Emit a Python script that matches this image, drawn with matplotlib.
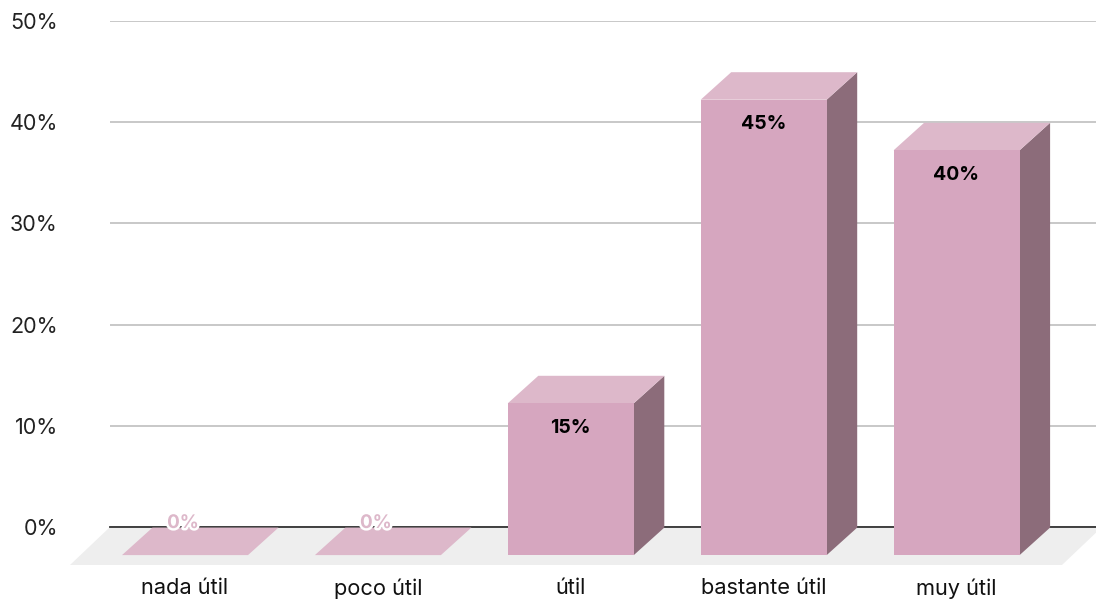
import matplotlib
matplotlib.use('Agg')
import matplotlib.pyplot as plt
import matplotlib.patheffects as pe
from matplotlib.patches import Polygon

categories = ['nada útil', 'poco útil', 'útil', 'bastante útil', 'muy útil']
values = [0, 0, 15, 45, 40]
y_ticks = [0, 10, 20, 30, 40, 50]

W, H = 1096, 599
plt.rcParams['font.family'] = ['Inter', 'Liberation Sans', 'DejaVu Sans']

FRONT = '#d6a6bf'
TOP = '#ddb8ca'
SIDE = '#8c6c7a'
FLOOR = '#eeeeee'

fig = plt.figure(figsize=(W / 100, H / 100), dpi=100)
# plot area runs from the 50% line down to the 0% line
ax = fig.add_axes([110 / W, 1 - 527 / H, (W - 110) / W, (527 - 21) / H])

# one category = 192.9 px, one percent = 10.12 px
px_x = 192.9
px_y = 10.12
ax.set_xlim((110 - 185) / px_x, (W - 185) / px_x)
ax.set_ylim(0, 50)

# fake depth of the 3d look
dx = 30.5 / px_x
dy = 27.5 / px_y
drop = 0.6 / px_y
half = 63 / px_x

for s in ax.spines.values():
    s.set_visible(False)
ax.set_axisbelow(True)
ax.grid(axis='y', color='#c8c8c8', lw=1.4)
ax.axhline(0, color='#333333', lw=1.3, zorder=1.5, clip_on=False)

# floor
fl = (70 - 185) / px_x
fr = (1062 - 185) / px_x
fb = -38 / px_y
ax.add_patch(Polygon([(fl, fb), (fr, fb), (fr + 40 / px_x, 0), (fl + 40 / px_x, 0)],
                     closed=True, fc=FLOOR, ec='none', zorder=1, clip_on=False))

for i, v in enumerate(values):
    l = i - half
    r = i + half
    back = v - drop
    base = -dy - drop
    top = back - dy
    ax.add_patch(Polygon([(r, base), (r + dx, -drop), (r + dx, back), (r, top)],
                         closed=True, fc=SIDE, ec='none', zorder=3, clip_on=False))
    ax.add_patch(Polygon([(l, top), (r, top), (r + dx, back), (l + dx, back)],
                         closed=True, fc=TOP, ec='none', zorder=3, clip_on=False))
    ax.add_patch(Polygon([(l, base), (r, base), (r, top), (l, top)],
                         closed=True, fc=FRONT, ec='none', zorder=3, clip_on=False))
    if v == 0:
        t = ax.text(i - 2 / px_x, 3.5 / px_y, f'{v}%', ha='center', va='center', fontsize=13.5,
                    fontweight='bold', color=TOP, zorder=5, clip_on=False)
        t.set_path_effects([pe.withStroke(linewidth=3.5, foreground='white')])
    else:
        ax.text(i - 0.5 / px_x, top - 24.5 / px_y, f'{v}%', ha='center', va='center', fontsize=14,
                fontweight='bold', color='black', zorder=5)

ax.set_yticks(y_ticks)
ax.set_yticklabels([f'{t}%' for t in y_ticks], fontsize=15.5, color='#222222')
ax.tick_params(axis='y', length=0, pad=37.5)
ax.set_xticks(range(len(categories)))
ax.set_xticklabels(categories, fontsize=15.7, color='#111111')
ax.tick_params(axis='x', length=0, pad=37)

fig.savefig('out.png', dpi=100)
